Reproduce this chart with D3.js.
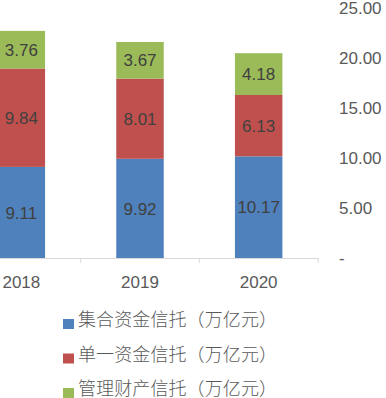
<!DOCTYPE html>
<html>
<head>
<meta charset="utf-8">
<script src="https://cdn.jsdelivr.net/npm/d3@7"></script>
<style>
  body { margin: 0; background: #fff; }
  svg { display: block; }
</style>
</head>
<body>
<script>
let years = ["2018", "2019", "2020"];
let seriesNames = ["集合资金信托（万亿元）", "单一资金信托（万亿元）", "管理财产信托（万亿元）"];
let jihe = [9.11, 9.92, 10.17];
let danyi = [9.84, 8.01, 6.13];
let guanli = [3.76, 3.67, 4.18];
let yTicks = [0, 5, 10, 15, 20, 25];
let colors = ["#4f81bd", "#c0504d", "#9bbb59"];

let svgWidth = 386;
let svgHeight = 398;

let svg = d3.select("body")
    .append("svg")
    .attr("width", svgWidth)
    .attr("height", svgHeight)

let numFont = "'Liberation Sans', Arial, sans-serif";
let cjkFont = "'Noto Sans CJK SC', sans-serif";

let xScale = d3.scaleBand()
    .domain(years)
    .range([-38, 318])
    .paddingInner(0.6)
    .paddingOuter(0.3);

let yScale = d3.scaleLinear()
    .domain([0, 25])
    .range([258, 8]);

let data = years.map((y, i) => ({ year: y, s0: jihe[i], s1: danyi[i], s2: guanli[i] }));
let stack = d3.stack().keys(["s0", "s1", "s2"]);
let stacked = stack(data);

// bars
stacked.forEach(function (layer, li) {
    let g = svg.append("g");
    g.selectAll("rect")
        .data(layer)
        .enter()
        .append("rect")
        .attr("x", d => xScale(d.data.year))
        .attr("y", d => yScale(d[1]))
        .attr("width", xScale.bandwidth())
        .attr("height", d => yScale(d[0]) - yScale(d[1]))
        .attr("fill", colors[li]);

    g.selectAll("text")
        .data(layer)
        .enter()
        .append("text")
        .attr("x", d => xScale(d.data.year) + xScale.bandwidth() / 2)
        .attr("y", d => (yScale(d[0]) + yScale(d[1])) / 2)
        .attr("dy", "0.36em")
        .attr("text-anchor", "middle")
        .attr("font-family", numFont)
        .attr("font-size", "17px")
        .attr("fill", "#404040")
        .text(d => (d[1] - d[0]).toFixed(2));
});

// x axis
let bottomAxis = d3.axisBottom(xScale).tickSize(0).tickPadding(18);
let xAxisG = svg.append("g")
    .attr("transform", `translate(0,${yScale(0)})`)
    .call(bottomAxis);
xAxisG.select(".domain").attr("stroke", "#d9d9d9");
xAxisG.selectAll("text")
    .attr("font-family", numFont)
    .attr("font-size", "17px")
    .attr("fill", "#595959");

// boundary ticks between categories
let step = xScale.step();
xAxisG.selectAll(".bound")
    .data(years)
    .enter()
    .append("line")
    .attr("x1", d => xScale(d) + xScale.bandwidth() + step * 0.3)
    .attr("x2", d => xScale(d) + xScale.bandwidth() + step * 0.3)
    .attr("y1", 0)
    .attr("y2", 5)
    .attr("stroke", "#d9d9d9");

// y axis on the right
let rightAxis = d3.axisRight(yScale)
    .tickValues(yTicks)
    .tickSize(0)
    .tickPadding(0)
    .tickFormat(d => d === 0 ? "-" : d.toFixed(2));
let yAxisG = svg.append("g")
    .attr("transform", "translate(339,0)")
    .call(rightAxis);
yAxisG.select(".domain").remove();
yAxisG.selectAll("text")
    .attr("font-family", numFont)
    .attr("font-size", "17px")
    .attr("fill", "#595959");

// legend
let legend = svg.append("g")
    .attr("transform", "translate(63,319)");
let items = legend.selectAll("g")
    .data(seriesNames)
    .enter()
    .append("g")
    .attr("transform", (d, i) => `translate(0,${i * 34.5})`);
items.append("rect")
    .attr("x", 0)
    .attr("y", 0)
    .attr("width", 11)
    .attr("height", 10)
    .attr("fill", (d, i) => colors[i]);
items.append("text")
    .attr("x", 15)
    .attr("y", 1)
    .attr("dy", "0.36em")
    .attr("font-family", cjkFont)
    .attr("font-size", "18px")
    .attr("font-weight", 300)
    .attr("textLength", 199)
    .attr("lengthAdjust", "spacing")
    .attr("fill", "#595959")
    .text(d => d);
</script>
</body>
</html>
